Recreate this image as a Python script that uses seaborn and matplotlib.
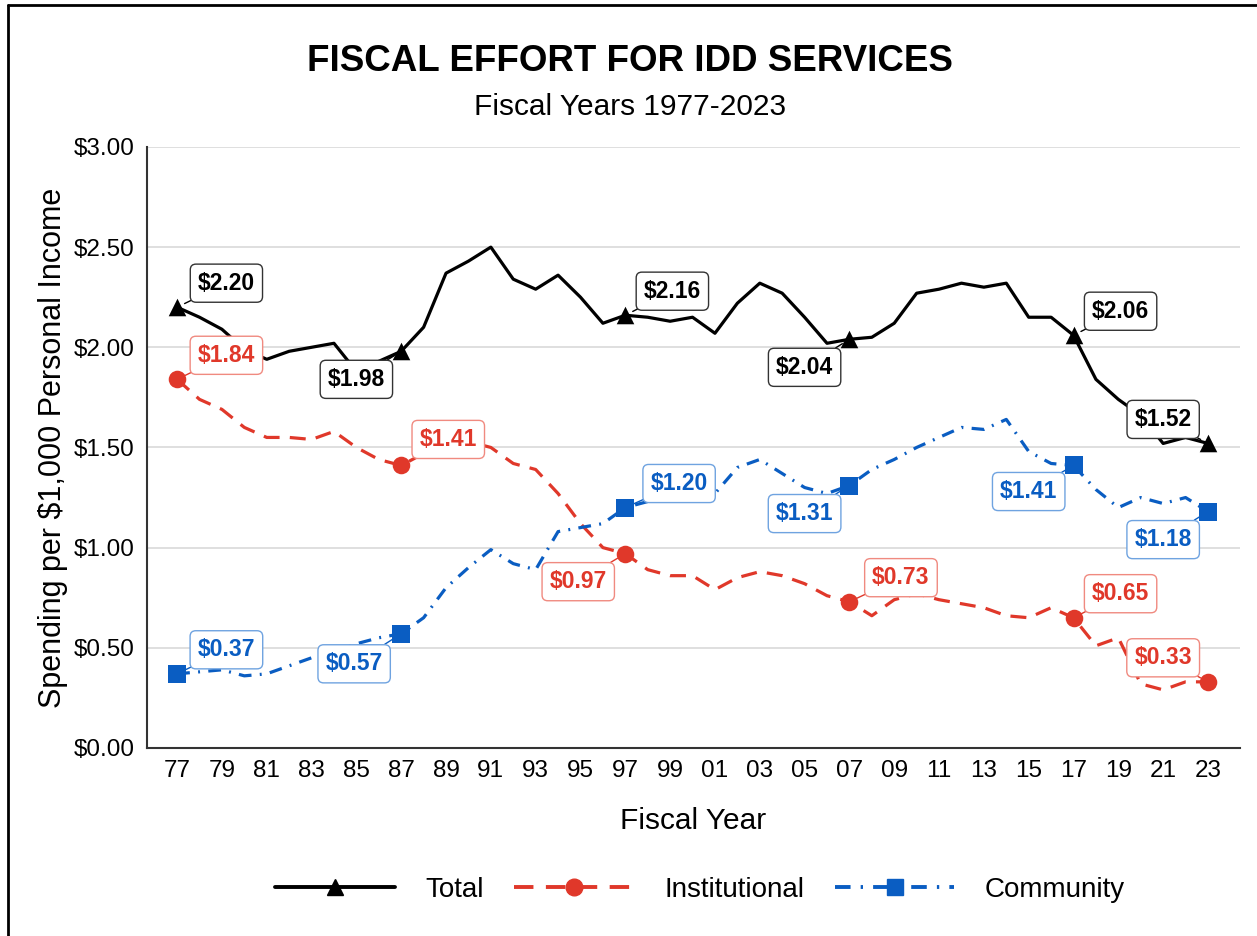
import pandas as pd
import numpy as np
import matplotlib
matplotlib.use("Agg")
import matplotlib.pyplot as plt
from matplotlib.lines import Line2D
import seaborn as sns

years = list(range(1977, 2024))
total = [2.20, 2.15, 2.09, 1.99, 1.94, 1.98, 2.00, 2.02, 1.88, 1.93,
         1.98, 2.10, 2.37, 2.43, 2.50, 2.34, 2.29, 2.36, 2.25, 2.12,
         2.16, 2.15, 2.13, 2.15, 2.07, 2.22, 2.32, 2.27, 2.15, 2.02,
         2.04, 2.05, 2.12, 2.27, 2.29, 2.32, 2.30, 2.32, 2.15, 2.15,
         2.06, 1.84, 1.74, 1.66, 1.52, 1.55, 1.52]
institutional = [1.84, 1.74, 1.69, 1.60, 1.55, 1.55, 1.54, 1.58, 1.50, 1.44,
                 1.41, 1.47, 1.52, 1.53, 1.50, 1.42, 1.39, 1.27, 1.12, 1.00,
                 0.97, 0.89, 0.86, 0.86, 0.79, 0.85, 0.88, 0.86, 0.82, 0.76,
                 0.73, 0.66, 0.74, 0.77, 0.74, 0.72, 0.70, 0.66, 0.65, 0.70,
                 0.65, 0.51, 0.55, 0.32, 0.29, 0.33, 0.33]
community = [0.37, 0.38, 0.39, 0.36, 0.37, 0.41, 0.45, 0.48, 0.52, 0.55,
             0.57, 0.65, 0.80, 0.90, 0.99, 0.92, 0.89, 1.08, 1.10, 1.12,
             1.20, 1.23, 1.24, 1.25, 1.27, 1.40, 1.44, 1.37, 1.30, 1.27,
             1.31, 1.39, 1.44, 1.50, 1.55, 1.60, 1.59, 1.64, 1.48, 1.42,
             1.41, 1.29, 1.20, 1.25, 1.22, 1.25, 1.18]
marker_years = [1977, 1987, 1997, 2007, 2017, 2023]
series = ["Total", "Institutional", "Community"]

colors = {"Total": "black", "Institutional": "#E0382A", "Community": "#0A5DC2"}
markers = {"Total": "^", "Institutional": "o", "Community": "s"}
dashes = {"Total": "", "Institutional": (5, 3.2), "Community": (4, 2.6, 0.6, 2.6)}
box_edge = {"Total": "#333333", "Institutional": "#F08A80", "Community": "#6FA3E0"}

# label offsets (years, dollars) from each marked point
offsets = {
    "Total": [(2.2, 0.12), (-2.0, -0.14), (2.1, 0.12), (-2.0, -0.14), (2.1, 0.12), (-2.0, 0.12)],
    "Institutional": [(2.2, 0.12), (2.1, 0.13), (-2.1, -0.14), (2.3, 0.12), (2.1, 0.12), (-2.0, 0.12)],
    "Community": [(2.2, 0.12), (-2.1, -0.15), (2.4, 0.12), (-2.0, -0.14), (-2.0, -0.13), (-2.0, -0.14)],
}

df = pd.DataFrame({"Year": years, "Total": total,
                   "Institutional": institutional, "Community": community})
long = df.melt(id_vars="Year", var_name="Type", value_name="Value")
pts = long[long["Year"].isin(marker_years)]

sns.set_style("white")
plt.rcParams["font.family"] = ["Liberation Sans", "DejaVu Sans"]
plt.rcParams["text.color"] = "black"
plt.rcParams["axes.labelcolor"] = "black"

fig = plt.figure(figsize=(12.57, 9.36), dpi=100)
ax = fig.add_axes([0.117, 0.2009, 0.8695, 0.6421])

sns.lineplot(data=long, x="Year", y="Value", hue="Type", style="Type",
             hue_order=series, style_order=series, palette=colors,
             dashes=dashes, linewidth=2.3, legend=False, ax=ax, zorder=3)
for s in series:
    sub = pts[pts["Type"] == s]
    ax.scatter(sub["Year"], sub["Value"], marker=markers[s], s=160,
               color=colors[s], zorder=4, linewidths=0)

for s in series:
    sub = pts[pts["Type"] == s].reset_index(drop=True)
    for i, row in sub.iterrows():
        dx, dy = offsets[s][i]
        ax.annotate(f"${row['Value']:.2f}", xy=(row["Year"], row["Value"]),
                    xytext=(row["Year"] + dx, row["Value"] + dy),
                    ha="center", va="center", fontsize=16.5, fontweight="bold",
                    color=colors[s], zorder=6,
                    bbox=dict(boxstyle="round,pad=0.33,rounding_size=0.25",
                              fc="white", ec=box_edge[s], lw=1.0),
                    arrowprops=dict(arrowstyle="-", color=colors[s], lw=1.0,
                                    shrinkA=0, shrinkB=6))

ax.set_xlim(1975.66, 2024.43)
ax.set_ylim(0, 3.0)
ax.set_xticks(years)
ax.set_xticklabels([f"{y % 100:02d}" if (y - 1977) % 2 == 0 else "" for y in years],
                   fontsize=17.5)
ax.set_yticks(np.arange(0, 3.01, 0.5))
ax.set_yticklabels([f"${v:.2f}" for v in np.arange(0, 3.01, 0.5)], fontsize=17.5)
ax.tick_params(axis="both", length=5, width=1.2, color="#333333", pad=4, labelcolor="black")
ax.grid(axis="y", color="#D9D9D9", lw=1.2)
ax.set_axisbelow(True)
for side in ["top", "right"]:
    ax.spines[side].set_visible(False)
for side in ["left", "bottom"]:
    ax.spines[side].set_color("#333333")
    ax.spines[side].set_linewidth(1.5)

ax.set_xlabel("Fiscal Year", fontsize=21.5, labelpad=18)
ax.set_ylabel("Spending per $1,000 Personal Income", fontsize=22, labelpad=4)

fig.text(0.501, 0.934, "FISCAL EFFORT FOR IDD SERVICES", ha="center", va="center",
         fontsize=26.5, fontweight="bold")
fig.text(0.501, 0.886, "Fiscal Years 1977-2023", ha="center", va="center", fontsize=21.5)

handles = [Line2D([], [], color=colors[s], lw=2.8, marker=markers[s], markersize=12,
                  dashes=dashes[s] if dashes[s] else (None, None)) for s in series]
handles[0].set_linestyle("-")
fig.legend(handles, series, loc="center", bbox_to_anchor=(0.557, 0.049), ncol=3,
           frameon=False, fontsize=20, handlelength=4.3, handletextpad=1.1,
           columnspacing=1.1)

fig.add_artist(Line2D([0.0066, 0.0066], [0, 0.9947], color="black", lw=2))
fig.add_artist(Line2D([0.0066, 1.0], [0.9947, 0.9947], color="black", lw=2))

fig.savefig("out.png", dpi=100)
